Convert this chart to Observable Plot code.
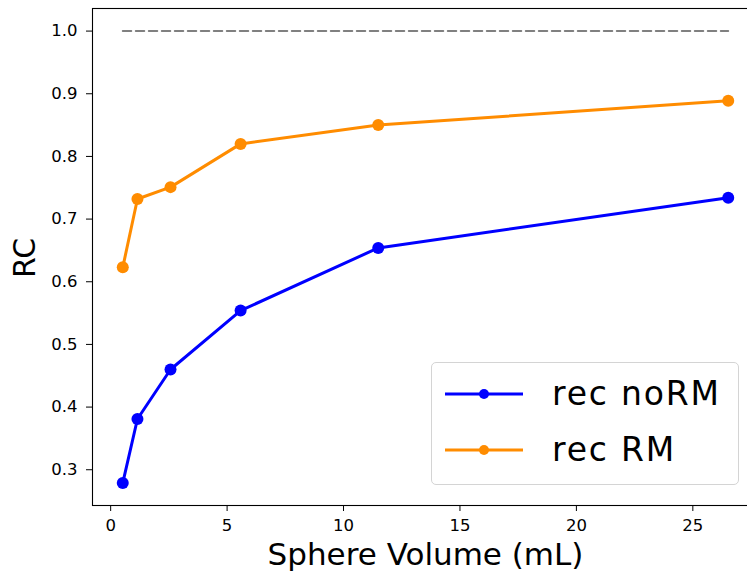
<!DOCTYPE html>
<html>
<head>
<meta charset="utf-8">
<script src="https://cdn.jsdelivr.net/npm/d3@7"></script>
<script src="https://cdn.jsdelivr.net/npm/@observablehq/plot@0.6"></script>
<style>
  html, body { margin: 0; padding: 0; background: #fff; overflow: hidden; }
  #wrap { position: relative; width: 747px; height: 578px; overflow: hidden; font-family: "DejaVu Sans", sans-serif; }
  #wrap > svg { max-width: none !important; width: 758px !important; height: 578px !important; display: block; }
  #legend { position: absolute; left: 431px; top: 362px; width: 306px; height: 121px;
    border: 1px solid #d4d4d4; border-radius: 5px; background: rgba(255,255,255,0.8); }
  .item { position: absolute; left: 0; height: 40px; width: 306px; }
  .item svg { position: absolute; left: 12px; top: 0; }
  .item span { position: absolute; left: 120px; top: 0; line-height: 40px; font-size: 33px; letter-spacing: 1.8px; color: #000; white-space: nowrap; }
</style>
</head>
<body>
<div id="wrap"></div>
<script>
// Data
const volumes = [0.52, 1.15, 2.57, 5.58, 11.49, 26.52];
const rcNoRM = [0.279, 0.381, 0.460, 0.554, 0.654, 0.734];
const rcRM = [0.623, 0.732, 0.751, 0.820, 0.850, 0.889];
const seriesNames = ["rec noRM", "rec RM"];
const seriesColors = ["#0000ff", "#ff8c00"];
const referenceValue = [1.0];
const xTicks = [0, 5, 10, 15, 20, 25];
const yTicks = [0.3, 0.4, 0.5, 0.6, 0.7, 0.8, 0.9, 1.0];

const rows = [];
[rcNoRM, rcRM].forEach((vals, i) => {
  vals.forEach((v, j) => rows.push({series: seriesNames[i], x: volumes[j], y: v}));
});
const refRows = [
  {x: volumes[0], y: referenceValue[0]},
  {x: volumes[volumes.length - 1], y: referenceValue[0]}
];

const xMin = d3.min(volumes), xMax = d3.max(volumes);
const xPad = (xMax - xMin) * 0.05;
const yMin = d3.min(rcNoRM), yMax = referenceValue[0];
const yPad = (yMax - yMin) * 0.05;

const chart = Plot.plot({
  width: 758,
  height: 578,
  marginLeft: 92,
  marginRight: 0,
  marginTop: 8,
  marginBottom: 73,
  style: {fontFamily: "DejaVu Sans, sans-serif", fontSize: "16.5px", color: "#000", background: "#fff", overflow: "visible"},
  x: {domain: [xMin - xPad, xMax + xPad], ticks: xTicks, tickSize: 6, tickPadding: 8, label: null},
  y: {domain: [yMin - yPad, yMax + yPad], ticks: yTicks, tickFormat: d3.format(".1f"), tickSize: 6, tickPadding: 9, label: null},
  color: {domain: seriesNames, range: seriesColors},
  marks: [
    Plot.frame({stroke: "#000", strokeWidth: 1.1}),
    Plot.line(refRows, {x: "x", y: "y", stroke: "#808080", strokeWidth: 2, strokeDasharray: "8.5,4.5"}),
    Plot.line(rows, {x: "x", y: "y", z: "series", stroke: "series", strokeWidth: 3}),
    Plot.dot(rows, {x: "x", y: "y", fill: "series", r: 6, stroke: "none"}),
    Plot.text(["Sphere Volume (mL)"], {frameAnchor: "bottom", dy: 59, fontSize: 31, fill: "#000"}),
    Plot.text(["RC"], {frameAnchor: "left", dx: -67, dy: 21, rotate: -90, fontSize: 30, fill: "#000"})
  ]
});
const wrap = document.getElementById("wrap");
wrap.appendChild(chart);

// Legend
const legend = document.createElement("div");
legend.id = "legend";
const centers = [31, 87];
seriesNames.forEach((name, i) => {
  const item = document.createElement("div");
  item.className = "item";
  item.style.top = (centers[i] - 20) + "px";
  item.innerHTML = `<svg width="80" height="40"><line x1="1" x2="79" y1="20" y2="20" stroke="${seriesColors[i]}" stroke-width="3"/><circle cx="40" cy="20" r="5" fill="${seriesColors[i]}"/></svg><span>${name}</span>`;
  legend.appendChild(item);
});
wrap.appendChild(legend);
</script>
</body>
</html>
